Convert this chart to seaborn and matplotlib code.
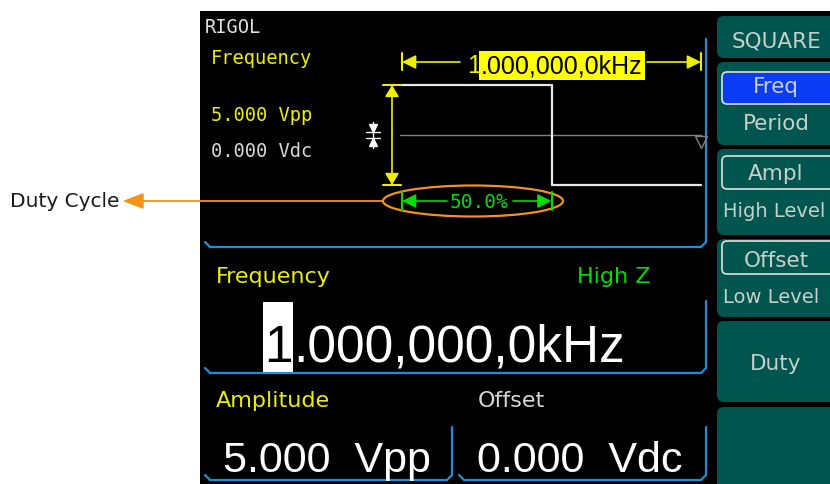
import matplotlib
matplotlib.use("Agg")
import matplotlib.pyplot as plt
from matplotlib.patches import Rectangle, FancyBboxPatch, Ellipse
import seaborn as sns

####  DATA  ####################################################################

wave_name = "SQUARE"
freq_text = "1.000,000,0kHz"
ampl_vpp = 5.0
offset_vdc = 0.0
duty_pct = 50.0
load_text = "High Z"

# one period of the square wave, t in periods and v in volts
wave_t = [0.0, 0.5, 0.5, 1.0]
wave_v = [2.5, 2.5, -2.5, -2.5]

# soft keys on the right, upper label then lower label
key_labels = [["SQUARE"], ["Freq", "Period"], ["Ampl", "High Level"],
              ["Offset", "Low Level"], ["Duty"], []]

####  STYLE / LAYOUT  ##########################################################

YEL = "#eeee00"
GRN = "#00dd00"
LGREY = "#d8d8d8"
BLUE = "#1b8fd8"
TEAL = "#00564f"
KEYTXT = "#c6cfcc"
HILITE = "#0a3cf5"
ORANGE = "#f39317"
MONO = "DejaVu Sans Mono"
BIG = "Liberation Sans"

key_rows = [(17, 59), (63, 146), (150, 236), (240, 318), (322, 403), (408, 495)]
sub_rows = {1: (73, 105), 2: (157, 190), 3: (242, 275)}
key_base = [[48], [93, 130], [180, 217], [267, 303], [370], []]

PX_T0, PX_T1 = 402, 701      # pixel columns of t=0 and t=1
PX_HI, PX_LO = 86, 186       # pixel rows of high and low level
WIN = (355, 40, 712, 232)    # pixel box of the waveform axes

sns.set_style("white")
plt.rcParams["font.family"] = ["DejaVu Sans"]

fig = plt.figure(figsize=(8.3, 4.85), dpi=100)
ax = fig.add_axes([0, 0, 1, 1])
ax.set_xlim(0, 830)
ax.set_ylim(485, 0)
ax.axis("off")

# screen background
ax.add_patch(Rectangle((200, 12), 640, 480, fc="black", ec="none", zorder=0))

# blue frames round the screen areas
frames = [
    [(205, 243), (210, 248), (701, 248), (706, 243), (706, 40)],
    [(205, 369), (210, 374), (701, 374), (706, 369), (706, 302)],
    [(205, 476), (210, 481), (447, 481), (452, 476), (452, 428)],
    [(459, 476), (464, 481), (701, 481), (706, 476), (706, 428)],
]
for f in frames:
    xs, ys = zip(*f)
    ax.plot(xs, ys, color=BLUE, lw=1.6, solid_joinstyle="miter", zorder=1)

# soft keys
for i, (top, bot) in enumerate(key_rows):
    ax.add_patch(FancyBboxPatch((717, top), 140, bot - top,
                                boxstyle="round,pad=0,rounding_size=7",
                                fc=TEAL, ec="none", zorder=1))
    if i in sub_rows:
        st, sb = sub_rows[i]
        ax.add_patch(FancyBboxPatch((722, st), 130, sb - st,
                                    boxstyle="round,pad=0,rounding_size=5",
                                    fc=HILITE if i == 1 else TEAL,
                                    ec="#e0e0e0", lw=1.2, zorder=2))
    for lab, base in zip(key_labels[i], key_base[i]):
        if "Level" in lab:
            # long labels kept inside the visible part of the key
            ax.text(723, base, lab, ha="left", va="baseline", fontsize=14,
                    color=KEYTXT, zorder=3)
        else:
            ax.text(776, base, lab, ha="center", va="baseline", fontsize=15.5,
                    color=KEYTXT, zorder=3)

# small status text
ax.text(205, 33, "RIGOL", family=MONO, fontsize=13.5, color="#e0e0e0", va="baseline")
ax.text(211, 64, "Frequency", family=MONO, fontsize=13.5, color=YEL, va="baseline")
ax.text(211, 121, f"{ampl_vpp:.3f} Vpp", family=MONO, fontsize=13.5, color=YEL, va="baseline")
ax.text(211, 157, f"{offset_vdc:.3f} Vdc", family=MONO, fontsize=13.5, color=LGREY, va="baseline")

# parameter area
ax.text(216, 283, "Frequency", fontsize=16, color=YEL, va="baseline")
ax.text(577, 283, load_text, fontsize=16, color=GRN, va="baseline")
ax.add_patch(Rectangle((263, 303), 30, 70, fc="white", ec="none", zorder=1))
ax.text(264, 362, freq_text[0], family=BIG, fontsize=37, color="black", va="baseline", zorder=2)
ax.text(293, 362, freq_text[1:], family=BIG, fontsize=37, color="white", va="baseline")
ax.text(216, 407, "Amplitude", fontsize=16, color=YEL, va="baseline")
ax.text(478, 407, "Offset", fontsize=16, color=LGREY, va="baseline")
ax.text(223, 472, f"{ampl_vpp:.3f}  Vpp", family=BIG, fontsize=31, color="white", va="baseline")
ax.text(477, 472, f"{offset_vdc:.3f}  Vdc", family=BIG, fontsize=31, color="white", va="baseline")

####  WAVEFORM  ################################################################

sx = (PX_T1 - PX_T0) / 1.0
sy = (PX_LO - PX_HI) / ampl_vpp
mid = (PX_HI + PX_LO) / 2

def t_of(px):
    return (px - PX_T0) / sx

def v_of(py):
    return offset_vdc + (mid - py) / sy

axw = fig.add_axes([WIN[0] / 830, 1 - WIN[3] / 485,
                    (WIN[2] - WIN[0]) / 830, (WIN[3] - WIN[1]) / 485])
axw.set_xlim(t_of(WIN[0]), t_of(WIN[2]))
axw.set_ylim(v_of(WIN[3]), v_of(WIN[1]))
axw.axis("off")
axw.patch.set_visible(False)

hi = offset_vdc + ampl_vpp / 2
lo = offset_vdc - ampl_vpp / 2

axw.plot([t_of(400), 1.0], [offset_vdc, offset_vdc], color="#808080", lw=1)
sns.lineplot(x=wave_t, y=wave_v, ax=axw, estimator=None, sort=False,
             color="#e8e8e8", lw=1.6)
axw.plot(t_of(701), v_of(143), marker="v", mfc="none", mec="#808080", ms=8, mew=1)

# offset marker
ox = t_of(373)
axw.plot([ox, ox], [v_of(123), v_of(149)], color="white", lw=1)
axw.plot([t_of(366), t_of(380)], [v_of(133), v_of(133)], color="white", lw=1)
axw.plot([t_of(366), t_of(380)], [v_of(139), v_of(139)], color="white", lw=1)
axw.plot(ox, v_of(129), marker="v", color="white", ms=6)
axw.plot(ox, v_of(143), marker="^", color="white", ms=6)

# amplitude arrow
ax_x = t_of(392)
axw.annotate("", xy=(ax_x, hi), xytext=(ax_x, lo),
             arrowprops=dict(arrowstyle="<|-|>,head_length=0.5,head_width=0.3",
                             color=YEL, lw=1.2, shrinkA=0, shrinkB=0, mutation_scale=14))
for v in (hi, lo):
    axw.plot([t_of(383), t_of(401)], [v, v], color=YEL, lw=1.5)

# period arrow
vf = v_of(63)
arrow = dict(arrowstyle="-|>,head_length=0.6,head_width=0.3", lw=1.2,
             shrinkA=0, shrinkB=0, mutation_scale=14)
axw.annotate("", xy=(0, vf), xytext=(t_of(460), vf), arrowprops=dict(arrow, color=YEL))
axw.annotate("", xy=(1, vf), xytext=(t_of(647), vf), arrowprops=dict(arrow, color=YEL))
for t in (0, 1):
    axw.plot([t, t], [v_of(54), v_of(71)], color=YEL, lw=1.5)
axw.text(t_of(481), v_of(73), freq_text[0], family=BIG, fontsize=18, color=YEL,
         ha="right", va="baseline")
axw.text(t_of(481), v_of(73), freq_text[1:], family=BIG, fontsize=18, color="black",
         ha="left", va="baseline",
         bbox=dict(boxstyle="square,pad=0.1", fc="#ffff00", ec="none"))

# duty arrow
vd = v_of(202)
td = duty_pct / 100
axw.annotate("", xy=(0, vd), xytext=(t_of(447), vd), arrowprops=dict(arrow, color=GRN))
axw.annotate("", xy=(td, vd), xytext=(t_of(513), vd), arrowprops=dict(arrow, color=GRN))
for t in (0, td):
    axw.plot([t, t], [v_of(193), v_of(211)], color=GRN, lw=1.5)
axw.text(t_of(450), v_of(208), f"{duty_pct:.1f}%", family=MONO, fontsize=14,
         color=GRN, ha="left", va="baseline")

# callout
axw.add_patch(Ellipse((t_of(473), vd), 180 / sx, 31 / sy, fill=False,
                      ec=ORANGE, lw=1.6))
axw.annotate("Duty Cycle", xy=(t_of(383), vd), xytext=(10, 202),
             textcoords=ax.transData, ha="left", va="center", fontsize=14.5,
             color="#1a1a1a", annotation_clip=False,
             arrowprops=dict(arrowstyle="<|-,head_length=0.9,head_width=0.35",
                             color=ORANGE, lw=1.3, shrinkA=0, shrinkB=0,
                             mutation_scale=14))

fig.savefig("out.png", dpi=100, facecolor="white")
